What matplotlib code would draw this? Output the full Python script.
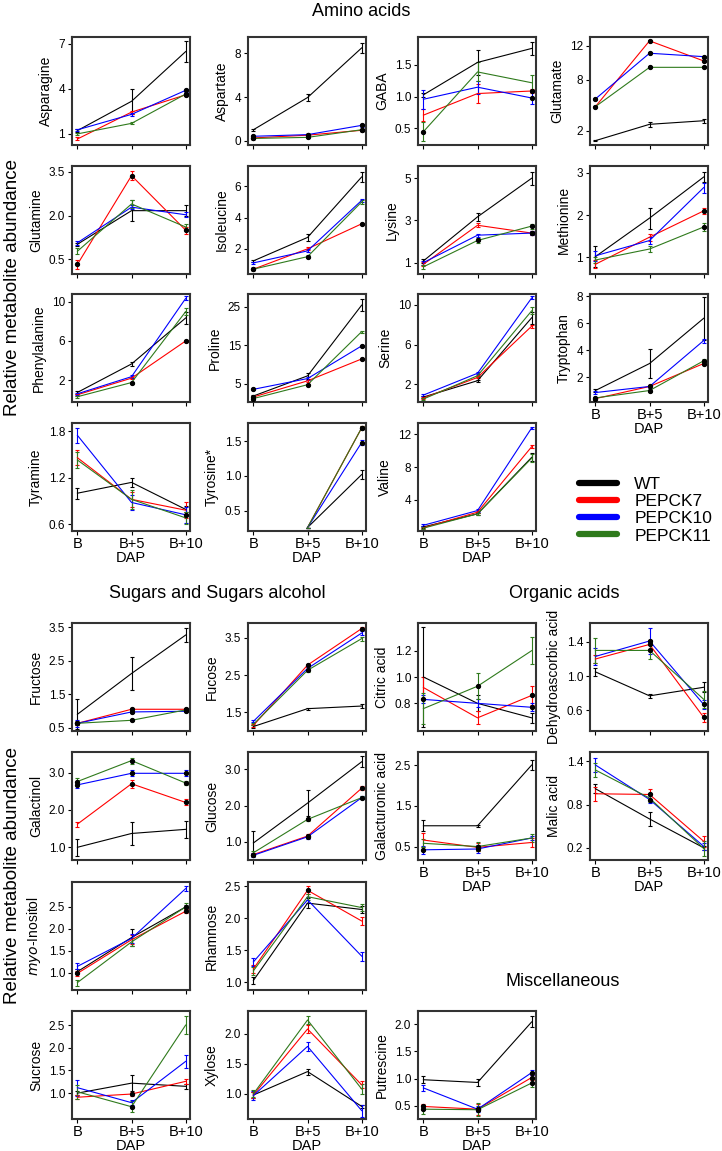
import numpy as np
import matplotlib.pyplot as plt
from matplotlib.lines import Line2D

plt.rcParams['font.family'] = ['Liberation Sans', 'DejaVu Sans']

genotypes = ['WT', 'PEPCK7', 'PEPCK10', 'PEPCK11']
colors = ['#000000', '#ff0000', '#0000ff', '#2f7a1c']
days = ['B', 'B+5', 'B+10']
nan = np.nan

# rows: WT, PEPCK7, PEPCK10, PEPCK11 ; columns: B, B+5, B+10
asparagine = [[1.22, 3.17, 6.48], [0.66, 2.45, 3.6], [1.27, 2.3, 3.9], [1.0, 1.7, 3.65]]
asparagine_err = [[0.08, 0.85, 0.7], [0.1, 0.1, 0.1], [0.06, 0.08, 0.08], [0.05, 0.07, 0.08]]
aspartate = [[1.0, 3.95, 8.5], [0.25, 0.5, 0.95], [0.4, 0.55, 1.4], [0.2, 0.3, 1.0]]
aspartate_err = [[0.08, 0.35, 0.45], [0.1, 0.1, 0.1], [0.1, 0.1, 0.12], [0.08, 0.08, 0.1]]
gaba = [[1.03, 1.54, 1.76], [0.71, 1.05, 1.09], [0.96, 1.15, 0.98], [0.45, 1.39, 1.22]]
gaba_err = [[0.03, 0.2, 0.1], [0.1, 0.15, 0.03], [0.15, 0.1, 0.1], [0.15, 0.15, 0.12]]
glutamate = [[0.87, 2.78, 3.2], [4.85, 12.55, 10.2], [5.75, 11.1, 10.7], [4.85, 9.45, 9.45]]
glutamate_err = [[0.05, 0.3, 0.25], [0.1, 0.1, 0.1], [0.1, 0.1, 0.1], [0.1, 0.1, 0.1]]
glutamine = [[1.02, 2.17, 2.17], [0.33, 3.37, 1.5], [1.07, 2.29, 2.03], [0.78, 2.4, 1.61]]
glutamine_err = [[0.05, 0.35, 0.2], [0.15, 0.15, 0.12], [0.06, 0.08, 0.08], [0.1, 0.15, 0.1]]
isoleucine = [[1.23, 2.73, 6.6], [0.7, 2.0, 3.6], [1.1, 1.87, 5.1], [0.7, 1.5, 5.0]]
isoleucine_err = [[0.06, 0.2, 0.3], [0.05, 0.1, 0.05], [0.06, 0.1, 0.1], [0.05, 0.08, 0.1]]
lysine = [[1.08, 3.17, 5.0], [0.92, 2.77, 2.4], [1.0, 2.3, 2.4], [0.8, 2.05, 2.73]]
lysine_err = [[0.1, 0.2, 0.3], [0.1, 0.1, 0.1], [0.1, 0.08, 0.1], [0.1, 0.1, 0.12]]
methionine = [[1.02, 1.93, 2.9], [0.84, 1.48, 2.1], [1.04, 1.4, 2.65], [0.94, 1.2, 1.72]]
methionine_err = [[0.25, 0.25, 0.12], [0.1, 0.08, 0.08], [0.12, 0.08, 0.12], [0.06, 0.08, 0.1]]
phenylalanine = [[0.74, 3.65, 8.35], [0.5, 2.2, 6.0], [0.6, 2.35, 10.35], [0.3, 1.75, 9.0]]
phenylalanine_err = [[0.15, 0.2, 0.6], [0.1, 0.1, 0.1], [0.1, 0.12, 0.2], [0.1, 0.1, 0.35]]
proline = [[1.76, 7.0, 25.4], [1.5, 5.7, 11.4], [3.5, 6.3, 14.8], [1.1, 4.7, 18.5]]
proline_err = [[0.3, 0.7, 1.6], [0.2, 0.3, 0.3], [0.3, 0.3, 0.3], [0.2, 0.3, 0.3]]
serine = [[0.7, 2.35, 8.7], [0.6, 2.68, 7.85], [0.9, 3.1, 10.7], [0.5, 2.85, 9.4]]
serine_err = [[0.1, 0.1, 0.6], [0.1, 0.1, 0.15], [0.1, 0.1, 0.15], [0.1, 0.1, 0.35]]
tryptophan = [[1.0, 3.0, 6.35], [0.4, 1.3, 3.0], [0.85, 1.3, 4.7], [0.45, 1.0, 3.2]]
tryptophan_err = [[0.1, 1.1, 1.6], [0.1, 0.1, 0.1], [0.1, 0.1, 0.15], [0.1, 0.1, 0.1]]
tyramine = [[1.0, 1.14, 0.79], [1.46, 0.92, 0.78], [1.75, 0.88, 0.72], [1.43, 0.92, 0.68]]
tyramine_err = [[0.07, 0.06, 0.04], [0.1, 0.1, 0.1], [0.1, 0.1, 0.1], [0.1, 0.12, 0.08]]
tyrosine = [[nan, 0.26, 1.02], [nan, 0.26, 1.69], [nan, 0.26, 1.48], [nan, 0.26, 1.69]]
tyrosine_err = [[0, 0, 0.06], [0, 0, 0.02], [0, 0, 0.03], [0, 0, 0.02]]
valine = [[0.7, 2.3, 9.2], [0.6, 2.5, 10.5], [0.9, 2.7, 12.8], [0.55, 2.3, 9.1]]
valine_err = [[0.1, 0.1, 0.5], [0.1, 0.1, 0.2], [0.1, 0.15, 0.15], [0.1, 0.1, 0.5]]

fructose = [[0.9, 2.12, 3.27], [0.63, 1.05, 1.05], [0.63, 0.97, 0.99], [0.63, 0.72, 1.03]]
fructose_err = [[0.45, 0.5, 0.2], [0.05, 0.03, 0.03], [0.1, 0.03, 0.03], [0.05, 0.03, 0.03]]
fucose = [[1.12, 1.6, 1.67], [1.15, 2.77, 3.75], [1.26, 2.68, 3.63], [1.18, 2.63, 3.48]]
fucose_err = [[0.03, 0.03, 0.05], [0.03, 0.04, 0.04], [0.03, 0.04, 0.05], [0.03, 0.04, 0.05]]
galactinol = [[1.0, 1.37, 1.48], [1.62, 2.7, 2.2], [2.67, 2.98, 2.98], [2.76, 3.32, 2.72]]
galactinol_err = [[0.22, 0.3, 0.22], [0.07, 0.1, 0.08], [0.08, 0.08, 0.08], [0.1, 0.08, 0.05]]
glucose = [[0.97, 2.07, 3.21], [0.65, 1.16, 2.48], [0.63, 1.14, 2.22], [0.7, 1.62, 2.22]]
glucose_err = [[0.33, 0.35, 0.15], [0.05, 0.05, 0.06], [0.05, 0.05, 0.04], [0.05, 0.05, 0.04]]
myo_inositol = [[1.02, 1.8, 2.5], [0.98, 1.75, 2.4], [1.14, 1.78, 2.92], [0.77, 1.7, 2.5]]
myo_inositol_err = [[0.05, 0.2, 0.05], [0.05, 0.1, 0.05], [0.07, 0.1, 0.06], [0.07, 0.1, 0.1]]
rhamnose = [[1.03, 2.24, 2.14], [1.21, 2.44, 1.96], [1.32, 2.29, 1.41], [1.18, 2.34, 2.17]]
rhamnose_err = [[0.06, 0.08, 0.05], [0.06, 0.06, 0.07], [0.06, 0.05, 0.07], [0.06, 0.05, 0.06]]
sucrose = [[1.0, 1.22, 1.15], [0.91, 0.98, 1.26], [1.12, 0.79, 1.7], [1.03, 0.7, 2.5]]
sucrose_err = [[0.05, 0.18, 0.05], [0.05, 0.05, 0.05], [0.18, 0.05, 0.15], [0.15, 0.12, 0.2]]
xylose = [[0.98, 1.37, 0.79], [0.98, 2.08, 1.15], [0.97, 1.79, 0.72], [1.0, 2.23, 1.08]]
xylose_err = [[0.05, 0.05, 0.03], [0.05, 0.06, 0.06], [0.08, 0.08, 0.1], [0.06, 0.07, 0.08]]

citric_acid = [[1.0, 0.8, 0.69], [0.92, 0.69, 0.86], [0.83, 0.8, 0.77], [0.76, 0.93, 1.2]]
citric_acid_err = [[0.38, 0.06, 0.04], [0.08, 0.05, 0.07], [0.03, 0.03, 0.03], [0.12, 0.1, 0.1]]
dehydroascorbic = [[1.05, 0.77, 0.87], [1.2, 1.37, 0.52], [1.23, 1.41, 0.67], [1.3, 1.3, 0.73]]
dehydroascorbic_err = [[0.05, 0.02, 0.06], [0.05, 0.05, 0.05], [0.1, 0.15, 0.05], [0.15, 0.1, 0.1]]
galacturonic = [[1.01, 1.01, 2.5], [0.66, 0.48, 0.6], [0.42, 0.44, 0.71], [0.58, 0.5, 0.71]]
galacturonic_err = [[0.13, 0.02, 0.12], [0.18, 0.1, 0.1], [0.1, 0.1, 0.05], [0.1, 0.1, 0.1]]
malic_acid = [[1.02, 0.6, 0.2], [0.95, 0.94, 0.29], [1.35, 0.87, 0.22], [1.28, 0.89, 0.19]]
malic_acid_err = [[0.06, 0.1, 0.03], [0.1, 0.08, 0.08], [0.1, 0.05, 0.05], [0.1, 0.05, 0.1]]
putrescine = [[0.98, 0.93, 2.04], [0.49, 0.44, 1.02], [0.83, 0.44, 1.11], [0.44, 0.43, 0.92]]
putrescine_err = [[0.06, 0.06, 0.1], [0.05, 0.1, 0.05], [0.05, 0.05, 0.05], [0.08, 0.12, 0.07]]

# black dots: (genotype index, day index)
sig_dots = {
    'Asparagine': [(1, 2), (2, 2), (3, 2)],
    'Aspartate': [(1, 0), (2, 0), (3, 0), (1, 1), (2, 1), (3, 1), (1, 2), (2, 2), (3, 2)],
    'GABA': [(3, 0), (1, 2), (2, 2)],
    'Glutamate': [(1, 0), (2, 0), (1, 1), (2, 1), (3, 1), (1, 2), (2, 2), (3, 2)],
    'Glutamine': [(1, 0), (1, 1), (1, 2)],
    'Isoleucine': [(1, 0), (3, 0), (3, 1), (1, 2)],
    'Lysine': [(3, 1), (1, 2), (2, 2), (3, 2)],
    'Methionine': [(1, 2), (3, 2)],
    'Phenylalanine': [(3, 1), (1, 2)],
    'Proline': [(1, 0), (2, 0), (3, 0), (3, 1), (1, 2), (2, 2)],
    'Tryptophan': [(1, 0), (3, 0), (1, 1), (3, 1), (1, 2), (3, 2)],
    'Tyramine': [(2, 2)],
    'Tyrosine*': [(1, 2), (2, 2), (3, 2)],
    'Fructose': [(1, 0), (2, 0), (3, 0), (1, 1), (2, 1), (3, 1), (1, 2), (2, 2), (3, 2)],
    'Fucose': [(1, 1), (3, 1), (1, 2)],
    'Galactinol': [(2, 0), (3, 0), (2, 1), (3, 1), (1, 1), (1, 2), (2, 2), (3, 2)],
    'Glucose': [(1, 0), (2, 0), (1, 1), (2, 1), (3, 1), (1, 2), (2, 2)],
    'myo': [(1, 0), (1, 2), (3, 2)],
    'Rhamnose': [(1, 1)],
    'Sucrose': [(1, 1), (3, 1)],
    'Citric acid': [(2, 0), (3, 1), (1, 2), (2, 2)],
    'Dehydroascorbic acid': [(1, 1), (2, 1), (3, 1), (1, 2), (2, 2)],
    'Galacturonic acid': [(2, 0), (1, 1), (2, 1), (3, 1)],
    'Malic acid': [(1, 1), (2, 1)],
    'Putrescine': [(1, 0), (3, 0), (1, 1), (2, 1), (3, 1), (1, 2), (2, 2), (3, 2)],
}

# (key, label, means, errs, yticks, ylim, left px, top px, show x labels)
col_x = [72, 248, 418, 590]
amino_y = [37, 166, 294, 423]
sugar_y = [623, 752, 882, 1011]
panels = [
    ('Asparagine', 'Asparagine', asparagine, asparagine_err, [1, 4, 7], (0.26, 7.45), col_x[0], amino_y[0], False),
    ('Aspartate', 'Aspartate', aspartate, aspartate_err, [0, 4, 8], (-0.4, 9.5), col_x[1], amino_y[0], False),
    ('GABA', 'GABA', gaba, gaba_err, [0.5, 1.0, 1.5], (0.24, 1.94), col_x[2], amino_y[0], False),
    ('Glutamate', 'Glutamate', glutamate, glutamate_err, [2, 8, 12], (0.36, 13.0), col_x[3], amino_y[0], False),
    ('Glutamine', 'Glutamine', glutamine, glutamine_err, [0.5, 2.0, 3.5], (0.0, 3.7), col_x[0], amino_y[1], False),
    ('Isoleucine', 'Isoleucine', isoleucine, isoleucine_err, [2, 4, 6], (0.39, 7.3), col_x[1], amino_y[1], False),
    ('Lysine', 'Lysine', lysine, lysine_err, [1, 3, 5], (0.46, 5.58), col_x[2], amino_y[1], False),
    ('Methionine', 'Methionine', methionine, methionine_err, [1, 2, 3], (0.61, 3.16), col_x[3], amino_y[1], False),
    ('Phenylalanine', 'Phenylalanine', phenylalanine, phenylalanine_err, [2, 6, 10], (-0.24, 10.8), col_x[0], amino_y[2], False),
    ('Proline', 'Proline', proline, proline_err, [5, 15, 25], (0.2, 28.3), col_x[1], amino_y[2], False),
    ('Serine', 'Serine', serine, serine_err, [2, 6, 10], (0.2, 11.1), col_x[2], amino_y[2], False),
    ('Tryptophan', 'Tryptophan', tryptophan, tryptophan_err, [2, 4, 6, 8], (0.15, 8.15), col_x[3], amino_y[2], True),
    ('Tyramine', 'Tyramine', tyramine, tyramine_err, [0.6, 1.2, 1.8], (0.51, 1.91), col_x[0], amino_y[3], True),
    ('Tyrosine*', 'Tyrosine*', tyrosine, tyrosine_err, [0.5, 1.0, 1.5], (0.21, 1.76), col_x[1], amino_y[3], True),
    ('Valine', 'Valine', valine, valine_err, [4, 8, 12], (0.2, 13.4), col_x[2], amino_y[3], True),
    ('Fructose', 'Fructose', fructose, fructose_err, [0.5, 1.5, 2.5, 3.5], (0.4, 3.63), col_x[0], sugar_y[0], False),
    ('Fucose', 'Fucose', fucose, fucose_err, [1.5, 2.5, 3.5], (1.0, 3.9), col_x[1], sugar_y[0], False),
    ('Citric acid', 'Citric acid', citric_acid, citric_acid_err, [0.8, 1.0, 1.2], (0.59, 1.41), col_x[2], sugar_y[0], False),
    ('Dehydroascorbic acid', 'Dehydroascorbic acid', dehydroascorbic, dehydroascorbic_err, [0.6, 1.0, 1.4], (0.36, 1.62), col_x[3], sugar_y[0], False),
    ('Galactinol', 'Galactinol', galactinol, galactinol_err, [1.0, 2.0, 3.0], (0.66, 3.55), col_x[0], sugar_y[1], False),
    ('Glucose', 'Glucose', glucose, glucose_err, [1.0, 2.0, 3.0], (0.5, 3.48), col_x[1], sugar_y[1], False),
    ('Galacturonic acid', 'Galacturonic acid', galacturonic, galacturonic_err, [0.5, 1.5, 2.5], (0.17, 2.82), col_x[2], sugar_y[1], True),
    ('Malic acid', 'Malic acid', malic_acid, malic_acid_err, [0.2, 0.8, 1.4], (0.03, 1.53), col_x[3], sugar_y[1], True),
    ('myo', r'$\it{myo}$-Inositol', myo_inositol, myo_inositol_err, [1.0, 1.5, 2.0, 2.5], (0.6, 3.07), col_x[0], sugar_y[2], False),
    ('Rhamnose', 'Rhamnose', rhamnose, rhamnose_err, [1.0, 1.5, 2.0, 2.5], (0.88, 2.57), col_x[1], sugar_y[2], False),
    ('Sucrose', 'Sucrose', sucrose, sucrose_err, [1.0, 1.5, 2.0, 2.5], (0.43, 2.81), col_x[0], sugar_y[3], True),
    ('Xylose', 'Xylose', xylose, xylose_err, [1.0, 1.5, 2.0], (0.58, 2.38), col_x[1], sugar_y[3], True),
    ('Putrescine', 'Putrescine', putrescine, putrescine_err, [0.5, 1.0, 1.5, 2.0], (0.26, 2.24), col_x[2], sugar_y[3], True),
]

W, H = 722, 1151
fig = plt.figure(figsize=(W / 100, H / 100), dpi=100)

x = np.arange(len(days))
for key, label, means, errs, yt, ylim, left, top, show_x in panels:
    ax = fig.add_axes([left / W, 1 - (top + 108) / H, 118 / W, 108 / H])
    for i in range(len(genotypes)):
        ax.errorbar(x, means[i], yerr=errs[i], color=colors[i], lw=0.8,
                    elinewidth=0.8, capsize=1.6, capthick=0.8)
    for g, d in sig_dots.get(key, []):
        ax.plot(x[d], means[g][d], 'o', color='black', ms=2.8, zorder=5)
    ax.set_xlim(-0.1, 2.08)
    ax.set_ylim(*ylim)
    ax.set_yticks(yt)
    ax.set_yticklabels([str(v) if isinstance(v, int) else f'{v:.1f}' for v in yt])
    ax.set_xticks(x)
    if show_x:
        ax.set_xticklabels(days, fontsize=10.5)
        ax.set_xlabel('DAP', fontsize=10.5, labelpad=0)
    else:
        ax.set_xticklabels([])
    ax.set_ylabel(label, fontsize=10)
    ax.tick_params(axis='y', labelsize=8.5, length=3, width=0.8, pad=2)
    ax.tick_params(axis='x', length=3, width=0.8, pad=1)
    for s in ax.spines.values():
        s.set_linewidth(1.5)
        s.set_color('#333333')

fig.text(361 / W, 1 - 12 / H, 'Amino acids', ha='center', va='center', fontsize=13)
fig.text(217 / W, 1 - 593 / H, 'Sugars and Sugars alcohol', ha='center', va='center', fontsize=13)
fig.text(564 / W, 1 - 594 / H, 'Organic acids', ha='center', va='center', fontsize=13)
fig.text(563 / W, 1 - 982 / H, 'Miscellaneous', ha='center', va='center', fontsize=13)
for yc in (287, 875):
    fig.text(13 / W, 1 - yc / H, 'Relative metabolite abundance', rotation=90,
             ha='center', va='center', fontsize=13.5)

handles = [Line2D([], [], color=c, lw=4.5, solid_capstyle='round') for c in colors]
fig.legend(handles, genotypes, loc='upper left', bbox_to_anchor=(570 / W, 1 - 468 / H),
           frameon=False, fontsize=12.5, handlelength=2.2, handletextpad=1.0,
           labelspacing=0.12, borderpad=0)

fig.savefig('out.png', dpi=100)
